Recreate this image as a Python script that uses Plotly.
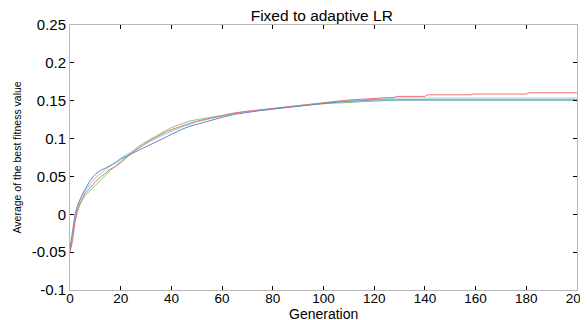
import plotly.graph_objects as go

generations = [0, 1, 2, 3, 4, 5, 6, 8, 10, 12, 14, 16, 18, 20, 23, 26, 29, 32, 35, 38,
               41, 44, 47, 50, 55, 60, 65, 70, 75, 80, 85, 90, 95, 100, 105, 110, 115,
               120, 125, 128, 129, 135, 140, 141, 150, 158, 159, 170, 180, 181, 190, 200]

red = [-0.05, -0.035, -0.01, 0.005, 0.015, 0.022, 0.028, 0.035, 0.043, 0.049, 0.055, 0.06,
       0.063, 0.068, 0.077, 0.085, 0.092, 0.098, 0.104, 0.109, 0.113, 0.117, 0.12, 0.123,
       0.127, 0.131, 0.134, 0.136, 0.138, 0.14, 0.142, 0.144, 0.146, 0.148, 0.149, 0.151,
       0.152, 0.153, 0.154, 0.1545, 0.1557, 0.1557, 0.1557, 0.1578, 0.1578, 0.1578, 0.1588,
       0.1588, 0.1588, 0.1605, 0.1605, 0.1605]

green = [-0.05, -0.03, -0.008, 0.006, 0.014, 0.02, 0.025, 0.031, 0.038, 0.045, 0.052, 0.058,
         0.064, 0.07, 0.078, 0.087, 0.094, 0.1, 0.106, 0.111, 0.116, 0.12, 0.123, 0.125,
         0.128, 0.131, 0.134, 0.136, 0.137, 0.139, 0.141, 0.143, 0.145, 0.146, 0.147, 0.148,
         0.149, 0.15, 0.151, 0.151, 0.151, 0.151, 0.151, 0.151, 0.151, 0.151, 0.151, 0.151,
         0.151, 0.151, 0.151, 0.151]

blue = [-0.045, -0.02, 0.0, 0.012, 0.02, 0.027, 0.033, 0.045, 0.053, 0.058, 0.061, 0.064,
        0.068, 0.073, 0.078, 0.083, 0.088, 0.093, 0.098, 0.103, 0.108, 0.112, 0.116, 0.119,
        0.124, 0.128, 0.132, 0.135, 0.137, 0.139, 0.141, 0.143, 0.145, 0.147, 0.148, 0.149,
        0.15, 0.151, 0.151, 0.151, 0.151, 0.151, 0.151, 0.151, 0.151, 0.151, 0.151, 0.151,
        0.151, 0.151, 0.151, 0.151]

cyan = [-0.05, -0.025, -0.003, 0.01, 0.02, 0.026, 0.031, 0.04, 0.048, 0.054, 0.059, 0.064,
        0.069, 0.074, 0.08, 0.086, 0.092, 0.097, 0.102, 0.107, 0.111, 0.115, 0.119, 0.122,
        0.126, 0.13, 0.133, 0.136, 0.138, 0.14, 0.142, 0.144, 0.146, 0.148, 0.149, 0.15,
        0.151, 0.152, 0.153, 0.1535, 0.1535, 0.1535, 0.1535, 0.1535, 0.1535, 0.1535, 0.1535,
        0.1535, 0.1535, 0.1535, 0.1535, 0.1535]

y_ticks = [-0.1, -0.05, 0, 0.05, 0.1, 0.15, 0.2, 0.25]
y_tick_labels = ["-0.1", "-0.05", "0", "0.05", "0.1", "0.15", "0.2", "0.25"]
x_ticks = [0, 20, 40, 60, 80, 100, 120, 140, 160, 180, 200]

series = [
    ("cyan", cyan, "#7fd8e8"),
    ("green", green, "#7ccf7c"),
    ("red", red, "#f07070"),
    ("blue", blue, "#6f86c8"),
]

fig = go.Figure()
for name, vals, col in series:
    fig.add_trace(go.Scatter(x=generations, y=vals, mode="lines", name=name,
                             line=dict(color=col, width=1), showlegend=False))

font_main = "Liberation Sans, Arial, sans-serif"
fig.update_layout(
    width=580, height=312,
    margin=dict(l=62, r=11, t=17, b=30, autoexpand=False),
    paper_bgcolor="white", plot_bgcolor="white",
    title=dict(text="Fixed to adaptive LR", x=0.541, xanchor="center", y=0.975,
               yanchor="middle", font=dict(family=font_main, size=15.5, color="black")),
    font=dict(family=font_main, size=13, color="black"),
    annotations=[
        dict(text="Generation", xref="paper", yref="paper", x=0.5, y=0,
             xanchor="center", yanchor="middle", yshift=-24, showarrow=False,
             font=dict(family=font_main, size=14, color="black")),
        dict(text="Average of the best fitness value", xref="paper", yref="paper",
             x=0, y=0.5, xanchor="center", yanchor="middle", xshift=-54, textangle=-90,
             showarrow=False, font=dict(family=font_main, size=10.5, color="black")),
    ],
)
fig.update_xaxes(
    range=[0, 200], tickvals=x_ticks, ticks="inside", ticklen=4, tickcolor="black",
    showline=True, linecolor="#b8b8b8", linewidth=1, mirror="ticks", showgrid=False,
    zeroline=False, tickfont=dict(size=13.5), automargin=False,
    ticklabeloverflow="allow", ticklabelstandoff=-4,
)
fig.update_yaxes(
    range=[-0.1, 0.25], tickvals=y_ticks, ticktext=y_tick_labels, ticks="inside", ticklen=4,
    tickcolor="black", showline=True, linecolor="#b8b8b8", linewidth=1, mirror="ticks",
    showgrid=False, zeroline=False, tickfont=dict(size=15), automargin=False,
)
fig.write_html("out.html")
